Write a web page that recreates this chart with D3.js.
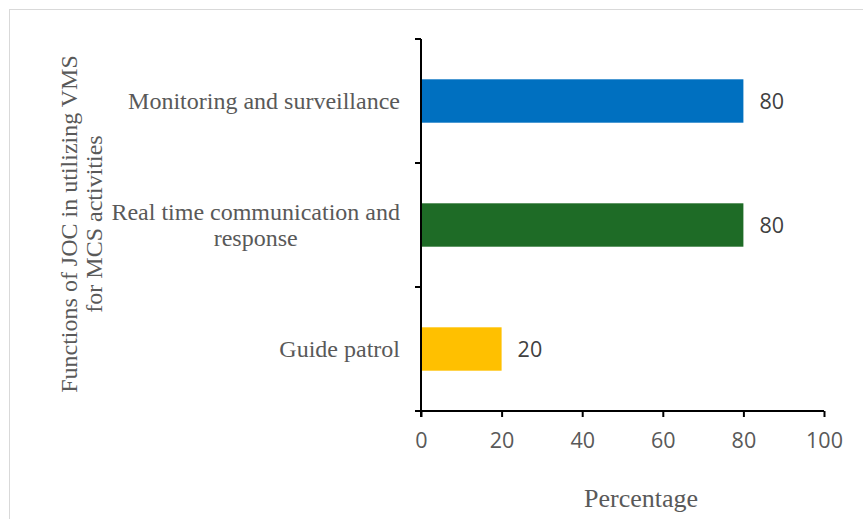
<!DOCTYPE html>
<html>
<head>
<meta charset="utf-8">
<script src="https://cdn.jsdelivr.net/npm/d3@7"></script>
<style>
  html, body { margin: 0; padding: 0; background: #fff; }
  svg { display: block; }
</style>
</head>
<body>
<svg id="chart" width="863" height="519"></svg>
<script>
// Functions of JOC in utilizing VMS for MCS activities (percent of respondents)
const categories = [
  "Monitoring and surveillance",
  "Real time communication and response",
  "Guide patrol"
];
const categoryLines = [
  ["Monitoring and surveillance"],
  ["Real time communication and", "response"],
  ["Guide patrol"]
];
const values = [80, 80, 20];
const barColors = ["#0070C0", "#1E6B26", "#FFC000"];
const xTicks = [0, 20, 40, 60, 80, 100];
const xTitle = "Percentage";
const yTitleLines = ["Functions of JOC in utilizing VMS", "for MCS activities"];

const svg = d3.select("#chart");
const serif = "'Liberation Serif', 'Times New Roman', serif";
const sans = "'Open Sans', 'Liberation Sans', sans-serif";

// outer frame
svg.append("rect")
  .attr("x", 9.5).attr("y", 9.5)
  .attr("width", 1000).attr("height", 1000)
  .attr("fill", "none").attr("stroke", "#d9d9d9").attr("stroke-width", 1);

const plot = { left: 421, right: 824, top: 39, bottom: 411 };

const x = d3.scaleLinear().domain([0, 100]).range([plot.left, plot.right]);
const y = d3.scaleBand().domain(categories)
  .range([plot.top, plot.bottom])
  .paddingInner(0.65).paddingOuter(0.325);
const step = y.step();

// bars
svg.append("g").selectAll("rect")
  .data(categories)
  .join("rect")
  .attr("x", x(0))
  .attr("y", d => y(d))
  .attr("width", (d, i) => x(values[i]) - x(0))
  .attr("height", y.bandwidth())
  .attr("fill", (d, i) => barColors[i]);

// value labels
svg.append("g").selectAll("text")
  .data(categories)
  .join("text")
  .attr("x", (d, i) => x(values[i]) + 16)
  .attr("y", d => y(d) + y.bandwidth() / 2)
  .attr("dy", "0.36em")
  .attr("font-family", sans)
  .attr("font-size", 21.5)
  .attr("fill", "#404040")
  .text((d, i) => values[i]);

// x axis
const xAxis = svg.append("g")
  .attr("transform", `translate(0,${plot.bottom})`)
  .call(d3.axisBottom(x).tickValues(xTicks).tickSize(6).tickSizeOuter(0).tickPadding(16));
xAxis.select(".domain").attr("stroke", "#000").attr("stroke-width", 2)
  .attr("d", `M${plot.left - 6},0H${plot.right}`);
xAxis.selectAll(".tick line").attr("stroke", "#000").attr("stroke-width", 2);
xAxis.selectAll(".tick text")
  .attr("font-family", sans).attr("font-size", 21.5).attr("fill", "#595959");

// y axis: tick marks sit on the category boundaries
const yAxis = svg.append("g");
yAxis.append("line")
  .attr("x1", plot.left).attr("x2", plot.left)
  .attr("y1", plot.top).attr("y2", plot.bottom + 6)
  .attr("stroke", "#000").attr("stroke-width", 2);
const boundaries = d3.range(categories.length + 1).map(i => plot.top + i * step);
yAxis.selectAll("line.b")
  .data(boundaries)
  .join("line")
  .attr("class", "b")
  .attr("x1", plot.left - 6).attr("x2", plot.left)
  .attr("y1", d => d).attr("y2", d => d)
  .attr("stroke", "#000").attr("stroke-width", 2);

// category labels: block right-aligned, lines centred within the block
const labelRight = 400;
const lineH = 26;
categories.forEach((c, i) => {
  const g = svg.append("g");
  const lines = categoryLines[i];
  const texts = lines.map((l, j) => g.append("text")
    .attr("font-family", serif).attr("font-size", 24).attr("fill", "#595959")
    .attr("text-anchor", "middle")
    .text(l));
  const maxW = d3.max(texts, t => t.node().getComputedTextLength());
  const cy = y(c) + y.bandwidth() / 2;
  texts.forEach((t, j) => {
    t.attr("x", labelRight - maxW / 2)
     .attr("y", cy + (j - (lines.length - 1) / 2) * lineH)
     .attr("dy", "0.33em");
  });
});

// axis titles
svg.append("text")
  .attr("x", 641).attr("y", 507)
  .attr("text-anchor", "middle")
  .attr("font-family", serif).attr("font-size", 26).attr("fill", "#595959")
  .text(xTitle);

const yt = svg.append("text")
  .attr("transform", "translate(0,224) rotate(-90)")
  .attr("text-anchor", "middle")
  .attr("font-family", serif).attr("font-size", 24).attr("fill", "#595959");
yTitleLines.forEach((l, j) => {
  yt.append("tspan").attr("x", 0).attr("y", 77 + j * 24.5).text(l);
});
</script>
</body>
</html>
